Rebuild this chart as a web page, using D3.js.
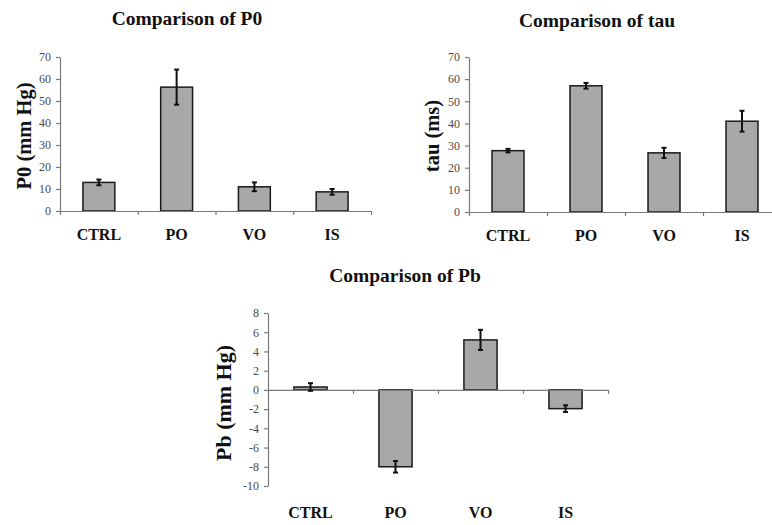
<!DOCTYPE html>
<html>
<head>
<meta charset="utf-8">
<script src="https://cdn.jsdelivr.net/npm/d3@7"></script>
<style>
  body { margin: 0; background: #fff; }
  svg { display: block; }
  .axis path, .axis line { stroke: #7a7a7a; stroke-width: 1.2; }
  .title, .y-title, .cat-label { font-family: "Liberation Serif", "Times New Roman", serif; font-weight: bold; fill: #111; }
</style>
</head>
<body>
<div id="chart"></div>
<script>
const categories = ['CTRL', 'PO', 'VO', 'IS'];

const p0Values = [13, 56.3, 11, 8.7];
const p0Errors = [1.3, 8, 2, 1.3];

const tauValues = [27.7, 57, 26.7, 41];
const tauErrors = [0.8, 1.3, 2.3, 4.7];

const pbValues = [0.3, -8, 5.2, -1.95];
const pbErrors = [0.4, 0.6, 1.05, 0.35];

const p0Ticks = [0, 10, 20, 30, 40, 50, 60, 70];
const tauTicks = [0, 10, 20, 30, 40, 50, 60, 70];
const pbTicks = [-10, -8, -6, -4, -2, 0, 2, 4, 6, 8];

const svg = d3.select('#chart')
  .append('svg')
  .attr('width', 772)
  .attr('height', 525);

function drawPanel(cfg) {
  const g = svg.append('g');

  const x = d3.scaleBand()
    .domain(categories)
    .range([cfg.left, cfg.right])
    .paddingInner(cfg.pad)
    .paddingOuter(cfg.pad / 2);

  const y = d3.scaleLinear()
    .domain([cfg.ticks[0], cfg.ticks[cfg.ticks.length - 1]])
    .range([cfg.bottom, cfg.top]);

  // category boundaries for x ticks
  const xb = d3.scaleLinear().domain([0, categories.length]).range([cfg.left, cfg.right]);

  const yAxis = g.append('g')
    .attr('class', 'axis')
    .attr('transform', `translate(${cfg.left},0)`)
    .call(d3.axisLeft(y).tickValues(cfg.ticks).tickFormat((d) => String(d))
      .tickSize(4).tickPadding(5).tickSizeOuter(0));
  yAxis.attr('font-family', null).attr('font-size', null);
  yAxis.selectAll('text')
    .style('font-family', '"Liberation Serif", "Times New Roman", serif')
    .style('font-size', '12px')
    .style('fill', '#4a4a4a');

  // bars
  const data = categories.map((c, i) => ({ c, v: cfg.values[i], e: cfg.errors[i] }));
  g.selectAll('rect.bar')
    .data(data)
    .join('rect')
    .attr('class', 'bar')
    .attr('x', (d) => x(d.c))
    .attr('width', x.bandwidth())
    .attr('y', (d) => y(Math.max(0, d.v)))
    .attr('height', (d) => Math.abs(y(d.v) - y(0)))
    .attr('fill', '#a8a8a8')
    .attr('stroke', '#1a1a1a')
    .attr('stroke-width', 1.5);

  // x axis at zero
  g.append('g')
    .attr('class', 'axis')
    .attr('transform', `translate(0,${y(0)})`)
    .call(d3.axisBottom(xb).tickValues(d3.range(categories.length + 1)).tickFormat('').tickSize(4).tickSizeOuter(0));

  // error bars
  const eb = g.selectAll('g.err').data(data).join('g').attr('class', 'err');
  const cx = (d) => x(d.c) + x.bandwidth() / 2;
  eb.append('line')
    .attr('x1', cx).attr('x2', cx)
    .attr('y1', (d) => y(d.v - d.e)).attr('y2', (d) => y(d.v + d.e))
    .attr('stroke', '#111').attr('stroke-width', 2);
  [-1, 1].forEach((s) => {
    eb.append('line')
      .attr('x1', (d) => cx(d) - 2.5).attr('x2', (d) => cx(d) + 2.5)
      .attr('y1', (d) => y(d.v + s * d.e)).attr('y2', (d) => y(d.v + s * d.e))
      .attr('stroke', '#111').attr('stroke-width', 2);
  });

  // category labels
  g.selectAll('text.cat-label')
    .data(categories)
    .join('text')
    .attr('class', 'cat-label')
    .attr('x', (d) => x(d) + x.bandwidth() / 2)
    .attr('y', cfg.catY)
    .attr('text-anchor', 'middle')
    .style('font-size', '16px')
    .text((d) => d);

  g.append('text')
    .attr('class', 'title')
    .attr('x', cfg.titleX)
    .attr('y', cfg.titleY)
    .attr('text-anchor', 'middle')
    .style('font-size', '19.5px')
    .text(cfg.title);

  g.append('text')
    .attr('class', 'y-title')
    .attr('transform', `translate(${cfg.yTitleX},${cfg.yTitleY}) rotate(-90)`)
    .attr('text-anchor', 'middle')
    .style('font-size', cfg.yTitleSize)
    .text(cfg.yTitle);
}

drawPanel({
  values: p0Values, errors: p0Errors, ticks: p0Ticks,
  left: 60, right: 371, top: 57, bottom: 211, pad: 0.59,
  catY: 240, title: 'Comparison of P0', titleX: 187, titleY: 25,
  yTitle: 'P0 (mm Hg)', yTitleX: 31, yTitleY: 136, yTitleSize: '20.5px',
});

drawPanel({
  values: tauValues, errors: tauErrors, ticks: tauTicks,
  left: 469, right: 781, top: 57, bottom: 212, pad: 0.59,
  catY: 241, title: 'Comparison of tau', titleX: 597, titleY: 27,
  yTitle: 'tau (ms)', yTitleX: 439, yTitleY: 136, yTitleSize: '20.5px',
});

drawPanel({
  values: pbValues, errors: pbErrors, ticks: pbTicks,
  left: 268, right: 608, top: 313, bottom: 486, pad: 0.61,
  catY: 518, title: 'Comparison of Pb', titleX: 405, titleY: 282,
  yTitle: 'Pb (mm Hg)', yTitleX: 231, yTitleY: 403, yTitleSize: '22px',
});
</script>
</body>
</html>
